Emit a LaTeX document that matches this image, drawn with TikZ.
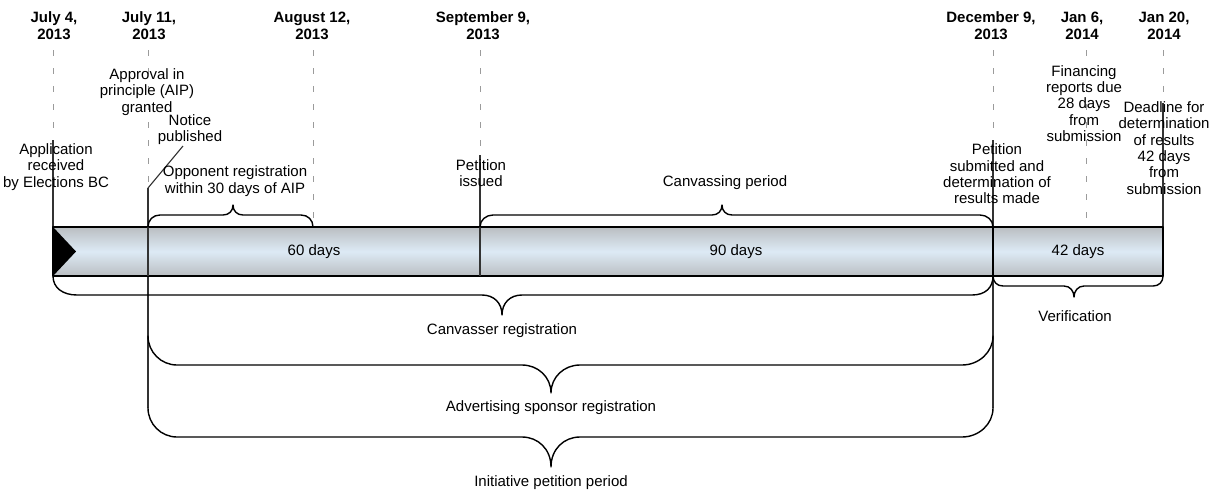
\documentclass[tikz,border=0pt]{standalone}
\usepackage{fontspec}
\setmainfont{Liberation Sans}
\definecolor{barend}{RGB}{186,190,194}
\definecolor{barmid}{RGB}{221,234,245}
\definecolor{guidegray}{RGB}{155,155,155}
\tikzset{
  txt/.style={align=center, inner sep=0pt, font=\fontsize{15}{16.3}\selectfont},
  datetxt/.style={align=center, inner sep=0pt, font=\fontsize{15}{17}\selectfont\bfseries},
  guide/.style={guidegray, line width=0.9pt, dash pattern=on 6pt off 12pt},
  tick/.style={black!80, line width=1.1pt},
  bracepath/.style={line width=1.4pt, line join=round, line cap=round},
}
\begin{document}
\begin{tikzpicture}[x=1pt, y=-1pt, line join=round]
\useasboundingbox (0,0) rectangle (1214,493);
% dates
\node[datetxt] (jul4)  at (54,26)   {July 4,\\2013};
\node[datetxt] (jul11) at (149,26)  {July 11,\\2013};
\node[datetxt] (aug12) at (312,26)  {August 12,\\2013};
\node[datetxt] (sep9)  at (483,26)  {September 9,\\2013};
\node[datetxt] (dec9)  at (991,26)  {December 9,\\2013};
\node[datetxt] (jan6)  at (1082,26) {Jan 6,\\2014};
\node[datetxt] (jan20) at (1164,26) {Jan 20,\\2014};
% guide lines
\draw[guide] (53,50) -- (53,140);     \draw[tick] (53,140) -- (53,227);
\draw[guide] (148,50) -- (148,188);   \draw[tick] (148,188) -- (148,408);
\draw[guide] (313,50) -- (313,227);
\draw[guide] (480,50) -- (480,155);   \draw[tick] (480,155) -- (480,276);
\draw[guide] (993,50) -- (993,140);   \draw[tick] (993,140) -- (993,408);
\draw[guide] (1086,50) -- (1086,227);
\draw[guide] (1163,50) -- (1163,103); \draw[tick] (1163,103) -- (1163,227);
% bar
\shade[top color=barend, bottom color=barend, middle color=barmid] (53,227) rectangle (1163,276);
\draw[line width=1.2pt] (53,227) rectangle (1163,276);
\fill (53,227) -- (76,251.5) -- (53,276) -- cycle;
\draw[tick] (148,227) -- (148,276);
\draw[tick] (480,227) -- (480,276);
\draw[line width=1.2pt] (993,227) -- (993,276);
\node[txt] (d60) at (314,252) {60 days};
\node[txt] (d90) at (736,252) {90 days};
\node[txt] (d42) at (1078,252) {42 days};
% events
\node[txt] (appl)   at (56,167)    {Application\\received\\by Elections BC};
\node[txt] (aip)    at (147,92)    {Approval in\\principle (AIP)\\granted};
\node[txt] (notice) at (190,129.5) {Notice\\published};
\coordinate (nfoot) at (183,146);
\coordinate (nhead) at (148,188);
\draw[tick] (nfoot) -- (nhead);
\node[txt] (opp)    at (235,181)   {Opponent registration\\within 30 days of AIP};
\node[txt] (petiss) at (481,173)   {Petition\\issued};
\node[txt] (canv)   at (725,183)   {Canvassing period};
\node[txt] (petsub) at (997,174)   {Petition\\submitted and\\determination of\\results made};
\node[txt] (fin)    at (1084,103.5) {Financing\\reports due\\28 days\\from\\submission};
\node[txt] (dead)   at (1164,148)  {Deadline for\\determination\\of results\\42 days\\from\\submission};
% braces above the bar
\draw[bracepath] (148,227) .. controls (148,220) and (153,215) .. (160,215) -- (223,215)
  .. controls (229,215) and (233,211) .. (233,205) .. controls (233,211) and (237,215) .. (243,215)
  -- (301,215) .. controls (308,215) and (313,220) .. (313,227);
\draw[bracepath] (480,227) .. controls (480,220) and (486,215) .. (493,215) -- (712,215)
  .. controls (718,215) and (722,211) .. (722,205) .. controls (722,211) and (726,215) .. (732,215)
  -- (980,215) .. controls (987,215) and (993,220) .. (993,227);
% braces below the bar
\draw[bracepath] (53,276) .. controls (53,288) and (63,295) .. (77,295) -- (482,295)
  .. controls (494,295) and (502,303) .. (502,315) .. controls (502,303) and (510,295) .. (522,295)
  -- (972,295) .. controls (985,295) and (993,288) .. (993,276);
\node[txt] (canvreg) at (502,331) {Canvasser registration};
\draw[bracepath] (148,336) .. controls (148,352) and (161,365) .. (177,365) -- (522,365)
  .. controls (538,365) and (551,377) .. (551,393) .. controls (551,377) and (564,365) .. (580,365)
  -- (962,365) .. controls (979,365) and (993,352) .. (993,336);
\node[txt] (advreg) at (551,408) {Advertising sponsor registration};
\draw[bracepath] (148,408) .. controls (148,424) and (161,437) .. (177,437) -- (522,437)
  .. controls (538,437) and (551,449) .. (551,467) .. controls (551,449) and (564,437) .. (580,437)
  -- (962,437) .. controls (979,437) and (993,424) .. (993,408);
\node[txt] (initp) at (551,483) {Initiative petition period};
\draw[bracepath] (993,276) .. controls (993,282) and (997,286) .. (1003,286) -- (1064,286)
  .. controls (1070,286) and (1074,291) .. (1074,297) .. controls (1074,291) and (1078,286) .. (1084,286)
  -- (1153,286) .. controls (1159,286) and (1163,282) .. (1163,276);
\node[txt] (verif) at (1075,316) {Verification};
\end{tikzpicture}
\end{document}
